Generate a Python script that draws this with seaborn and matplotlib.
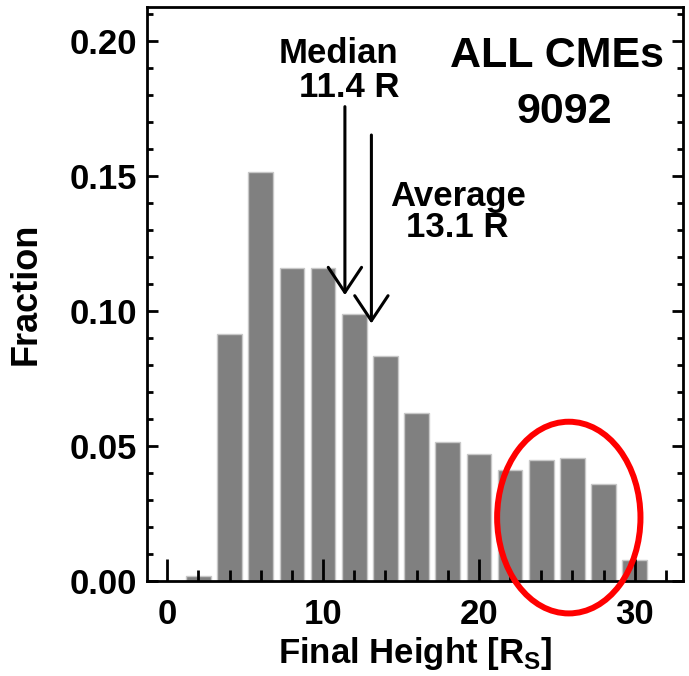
import matplotlib
matplotlib.use("Agg")
import matplotlib.pyplot as plt
from matplotlib.patches import Ellipse
from matplotlib.ticker import MultipleLocator, FormatStrFormatter
import seaborn as sns
import pandas as pd

# Histogram of CME final heights (bin centres in solar radii, 2 R_S bins)
bin_centers = [2, 4, 6, 8, 10, 12, 14, 16, 18, 20, 22, 24, 26, 28, 30]
fractions = [0.0019, 0.0915, 0.1514, 0.1159, 0.1159, 0.0989, 0.0832, 0.0624,
             0.0514, 0.0470, 0.0410, 0.0447, 0.0454, 0.0359, 0.0078]
median_height = 11.4
average_height = 13.1
n_events = 9092

sns.set_style("ticks")
plt.rcParams["font.family"] = ["Liberation Sans", "DejaVu Sans"]
plt.rcParams["font.weight"] = "bold"
plt.rcParams["mathtext.fontset"] = "custom"
plt.rcParams["mathtext.rm"] = "Liberation Sans:bold"
plt.rcParams["mathtext.bf"] = "Liberation Sans:bold"
for key in ("text.color", "axes.labelcolor", "xtick.color", "ytick.color",
            "xtick.labelcolor", "ytick.labelcolor"):
    plt.rcParams[key] = "black"

fig = plt.figure(figsize=(6.89, 6.76), dpi=100)
ax = fig.add_axes([0.2134, 0.1405, 0.9913 - 0.2134, 0.9896 - 0.1405])

df = pd.DataFrame({"height": bin_centers, "fraction": fractions})
sns.barplot(data=df, x="height", y="fraction", native_scale=True, width=0.79,
            color="#808080", edgecolor="#c8c8c8", linewidth=1.0,
            saturation=1, ax=ax, zorder=2)

ax.set_xlim(-1.3, 33.1)
ax.set_ylim(0, 0.2126)
ax.set_axisbelow(False)

# Axes frame; inward ticks on bottom, left and right, drawn over the bars
for s in ax.spines.values():
    s.set_linewidth(2.0)
    s.set_color("black")
    s.set_visible(True)
    s.set_zorder(4)
ax.xaxis.set_zorder(4)
ax.yaxis.set_zorder(4)
ax.xaxis.set_major_locator(MultipleLocator(10))
ax.xaxis.set_minor_locator(MultipleLocator(2))
ax.yaxis.set_major_locator(MultipleLocator(0.05))
ax.yaxis.set_minor_locator(MultipleLocator(0.01))
ax.yaxis.set_major_formatter(FormatStrFormatter("%.2f"))
ax.xaxis.set_major_formatter(FormatStrFormatter("%d"))
ax.tick_params(axis="x", which="major", direction="in", length=16, width=2.0,
               top=False, labelsize=25, pad=12, colors="black")
ax.tick_params(axis="x", which="minor", direction="in", length=8, width=2.0,
               top=False, colors="black")
ax.tick_params(axis="y", which="major", direction="in", length=8, width=2.0,
               right=True, labelsize=25, pad=7, colors="black")
ax.tick_params(axis="y", which="minor", direction="in", length=4, width=2.0,
               right=True, colors="black")

ax.set_xlabel(r"Final Height [R$_{\rm S}$]", fontsize=25, fontweight="bold",
              labelpad=3, color="black")
ax.set_ylabel("Fraction", fontsize=26, fontweight="bold", labelpad=19,
              color="black")

# Median and average markers
arrow = dict(arrowstyle="->,head_length=0.9,head_width=0.6", lw=2.2,
             color="black", shrinkA=0, shrinkB=0, mutation_scale=20)
ax.annotate("", xy=(median_height, 0.1059), xytext=(median_height, 0.1757),
            arrowprops=arrow, zorder=5)
ax.annotate("", xy=(average_height, 0.0954), xytext=(average_height, 0.1652),
            arrowprops=arrow, zorder=5)

txt = dict(ha="center", va="baseline", fontweight="bold", color="black")
ax.text(10.96, 0.1919, "Median", fontsize=25, **txt)
ax.text(11.67, 0.1793, f"{median_height} R", fontsize=25, **txt)
ax.text(18.65, 0.1390, "Average", fontsize=25, **txt)
ax.text(18.59, 0.1276, f"{average_height} R", fontsize=25, **txt)
ax.text(25.03, 0.1905, "ALL CMEs", fontsize=31, **txt)
ax.text(25.48, 0.1695, f"{n_events}", fontsize=31, **txt)

# Highlight of the tail bins
ax.add_patch(Ellipse((25.77, 0.0235), 9.2, 0.071, fill=False,
                     edgecolor="red", lw=4.3, clip_on=False, zorder=6))

fig.savefig("out.png", dpi=100)
